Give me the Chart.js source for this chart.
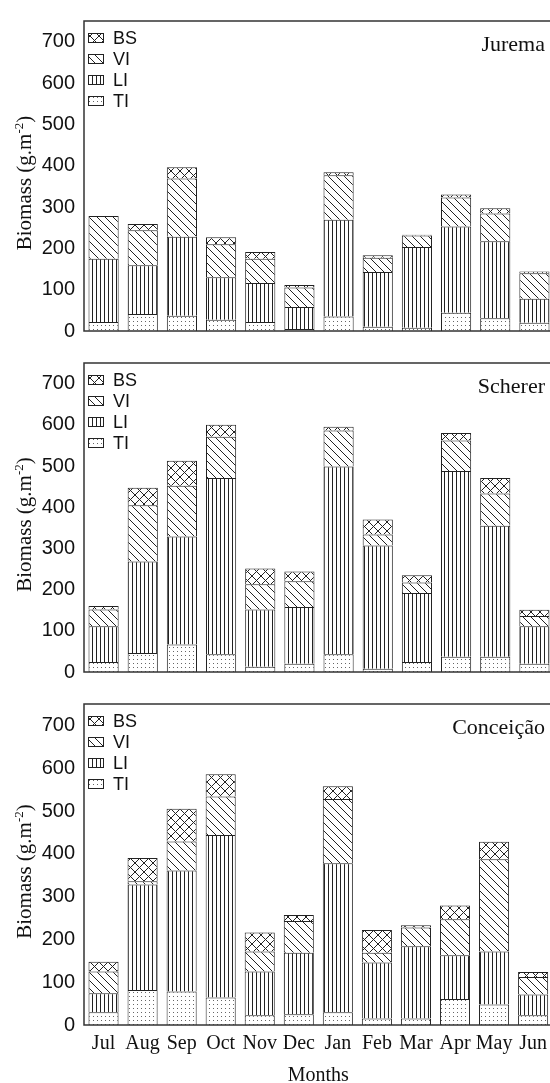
<!DOCTYPE html>
<html>
<head>
<meta charset="utf-8">
<script src="https://cdn.jsdelivr.net/npm/chart.js@4.4.1/dist/chart.umd.min.js"></script>
<style>
  html, body { margin: 0; padding: 0; background: #fff; overflow: hidden; width: 550px; height: 1083px; }
  .panel { position: absolute; left: 0; }
</style>
</head>
<body>
<div class="panel" style="top:0px"><canvas id="jurema" width="554" height="352"></canvas></div>
<div class="panel" style="top:342px"><canvas id="scherer" width="554" height="351"></canvas></div>
<div class="panel" style="top:683px"><canvas id="conceicao" width="554" height="410"></canvas></div>
<script>
// months on the x axis
const months = ['Jul', 'Aug', 'Sep', 'Oct', 'Nov', 'Dec', 'Jan', 'Feb', 'Mar', 'Apr', 'May', 'Jun'];
const yTicks = [0, 100, 200, 300, 400, 500, 600, 700];

// Jurema (g.m-2)
const juremaTI = [22, 41, 37, 27, 22, 5, 35, 10, 8, 44, 31, 20];
const juremaLI = [153, 118, 191, 103, 94, 53, 234, 133, 195, 209, 186, 58];
const juremaVI = [103, 85, 141, 80, 59, 47, 108, 34, 28, 70, 67, 62];
const juremaBS = [0, 15, 27, 17, 16, 6, 7, 6, 2, 7, 13, 4];

// Scherer
const schererTI = [24, 46, 67, 43, 13, 20, 43, 8, 24, 37, 37, 20];
const schererLI = [87, 222, 262, 428, 139, 138, 456, 299, 168, 451, 318, 91];
const schererVI = [41, 137, 123, 100, 61, 62, 87, 27, 25, 74, 78, 25];
const schererBS = [8, 42, 61, 29, 38, 24, 9, 36, 18, 18, 38, 15];

// Conceição
const conceicaoTI = [30, 82, 78, 64, 23, 25, 30, 15, 15, 61, 48, 23];
const conceicaoLI = [44, 246, 283, 380, 102, 144, 348, 131, 169, 102, 124, 48];
const conceicaoVI = [51, 8, 68, 90, 47, 74, 150, 23, 44, 84, 215, 41];
const conceicaoBS = [23, 54, 76, 52, 44, 14, 30, 53, 5, 32, 41, 12];

Chart.defaults.font.family = "'Liberation Sans', Arial, sans-serif";
Chart.defaults.color = '#111';

function makePattern(kind) {
  const c = document.createElement('canvas');
  const g = c.getContext('2d');
  let s = 4;
  if (kind == 'diag') s = 8;
  if (kind == 'cross') s = 9;
  c.width = s; c.height = s;
  g.fillStyle = '#fff';
  g.fillRect(0, 0, s, s);
  g.strokeStyle = '#222';
  g.fillStyle = '#666';
  g.lineWidth = 1;
  if (kind == 'dots') {
    g.fillRect(1, 1, 1, 1);
  } else if (kind == 'vert') {
    g.fillStyle = '#222';
    g.fillRect(0, 0, 1, s);
  } else {
    g.beginPath();
    for (const k of [-s, 0, s]) {
      g.moveTo(k, 0); g.lineTo(k + s, s);
      if (kind == 'cross') { g.moveTo(k, s); g.lineTo(k + s, 0); }
    }
    g.stroke();
  }
  return g.createPattern(c, 'repeat');
}

const patTI = makePattern('dots');
const patLI = makePattern('vert');
const patVI = makePattern('diag');
const patBS = makePattern('cross');

const panelDecor = {
  id: 'panelDecor',
  afterDraw(chart, args, opts) {
    const ctx = chart.ctx;
    const a = chart.chartArea;
    ctx.save();
    // frame
    ctx.strokeStyle = '#333';
    ctx.lineWidth = 1.5;
    ctx.strokeRect(a.left, a.top, a.right - a.left, a.bottom - a.top);
    // site name
    ctx.fillStyle = '#111';
    ctx.font = "22px 'Liberation Serif', 'Times New Roman', serif";
    ctx.textAlign = 'right';
    ctx.textBaseline = 'middle';
    ctx.fillText(opts.site, 545, a.top + 24);
    // legend, top-down BS, VI, LI, TI
    ctx.font = "18px 'Liberation Sans', Arial, sans-serif";
    ctx.textAlign = 'left';
    const ds = chart.data.datasets.slice().reverse();
    ds.forEach((d, i) => {
      const y = a.top + 17 + i * 21;
      ctx.fillStyle = d.backgroundColor;
      ctx.fillRect(88, y - 5, 16, 10);
      ctx.strokeStyle = '#222';
      ctx.lineWidth = 1;
      ctx.strokeRect(88.5, y - 4.5, 15, 9);
      ctx.fillStyle = '#111';
      ctx.fillText(d.label, 113, y + 1);
    });
    // y axis title with superscript
    const cy = (a.top + a.bottom) / 2 + 7;
    ctx.translate(24, cy);
    ctx.rotate(-Math.PI / 2);
    const big = "21px 'Liberation Serif', 'Times New Roman', serif";
    const small = "13px 'Liberation Serif', 'Times New Roman', serif";
    const p1 = 'Biomass (g.m', p2 = '-2', p3 = ')';
    ctx.font = big;
    const w1 = ctx.measureText(p1).width, w3 = ctx.measureText(p3).width;
    ctx.font = small;
    const w2 = ctx.measureText(p2).width;
    let x = -(w1 + w2 + w3) / 2;
    ctx.textAlign = 'left';
    ctx.textBaseline = 'alphabetic';
    ctx.font = big;
    ctx.fillText(p1, x, 7);
    ctx.font = small;
    ctx.fillText(p2, x + w1, -1);
    ctx.font = big;
    ctx.fillText(p3, x + w1 + w2, 7);
    ctx.restore();
  }
};

function makeChart(id, site, ti, li, vi, bs, top, xHeight, showMonths) {
  const ds = [
    { label: 'TI', data: ti, backgroundColor: patTI },
    { label: 'LI', data: li, backgroundColor: patLI },
    { label: 'VI', data: vi, backgroundColor: patVI },
    { label: 'BS', data: bs, backgroundColor: patBS }
  ].map(d => Object.assign(d, {
    borderColor: '#222', borderWidth: 1, borderSkipped: 'bottom',
    barPercentage: 0.77, categoryPercentage: 1.0
  }));

  return new Chart(document.getElementById(id), {
    type: 'bar',
    data: { labels: months, datasets: ds },
    plugins: [panelDecor],
    options: {
      responsive: false,
      animation: false,
      devicePixelRatio: 1,
      layout: { padding: { left: 0, right: 0, top: top, bottom: 0 } },
      plugins: {
        legend: { display: false },
        tooltip: { enabled: false },
        panelDecor: { site: site }
      },
      scales: {
        x: {
          stacked: true,
          grid: { display: false, drawTicks: false },
          border: { display: false },
          ticks: {
            display: showMonths,
            autoSkip: false,
            maxRotation: 0,
            minRotation: 0,
            padding: 7,
            color: '#111',
            font: { family: "'Liberation Serif', 'Times New Roman', serif", size: 20 }
          },
          title: {
            display: showMonths,
            text: 'Months',
            color: '#111',
            padding: { top: 0, bottom: 5 },
            font: { family: "'Liberation Serif', 'Times New Roman', serif", size: 20 }
          },
          afterFit: s => { s.height = xHeight; }
        },
        y: {
          stacked: true,
          min: 0,
          max: 750,
          grid: { display: false, drawTicks: false },
          border: { display: false },
          afterBuildTicks: s => { s.ticks = yTicks.map(v => ({ value: v })); },
          ticks: {
            padding: 9,
            color: '#111',
            font: { size: 20 }
          },
          afterFit: s => { s.width = 84; }
        }
      }
    }
  });
}

makeChart('jurema', 'Jurema', juremaTI, juremaLI, juremaVI, juremaBS, 13, 10, false);
makeChart('scherer', 'Scherer', schererTI, schererLI, schererVI, schererBS, 10, 10, false);
makeChart('conceicao', 'Conceição', conceicaoTI, conceicaoLI, conceicaoVI, conceicaoBS, 12, 68, true);
</script>
</body>
</html>
